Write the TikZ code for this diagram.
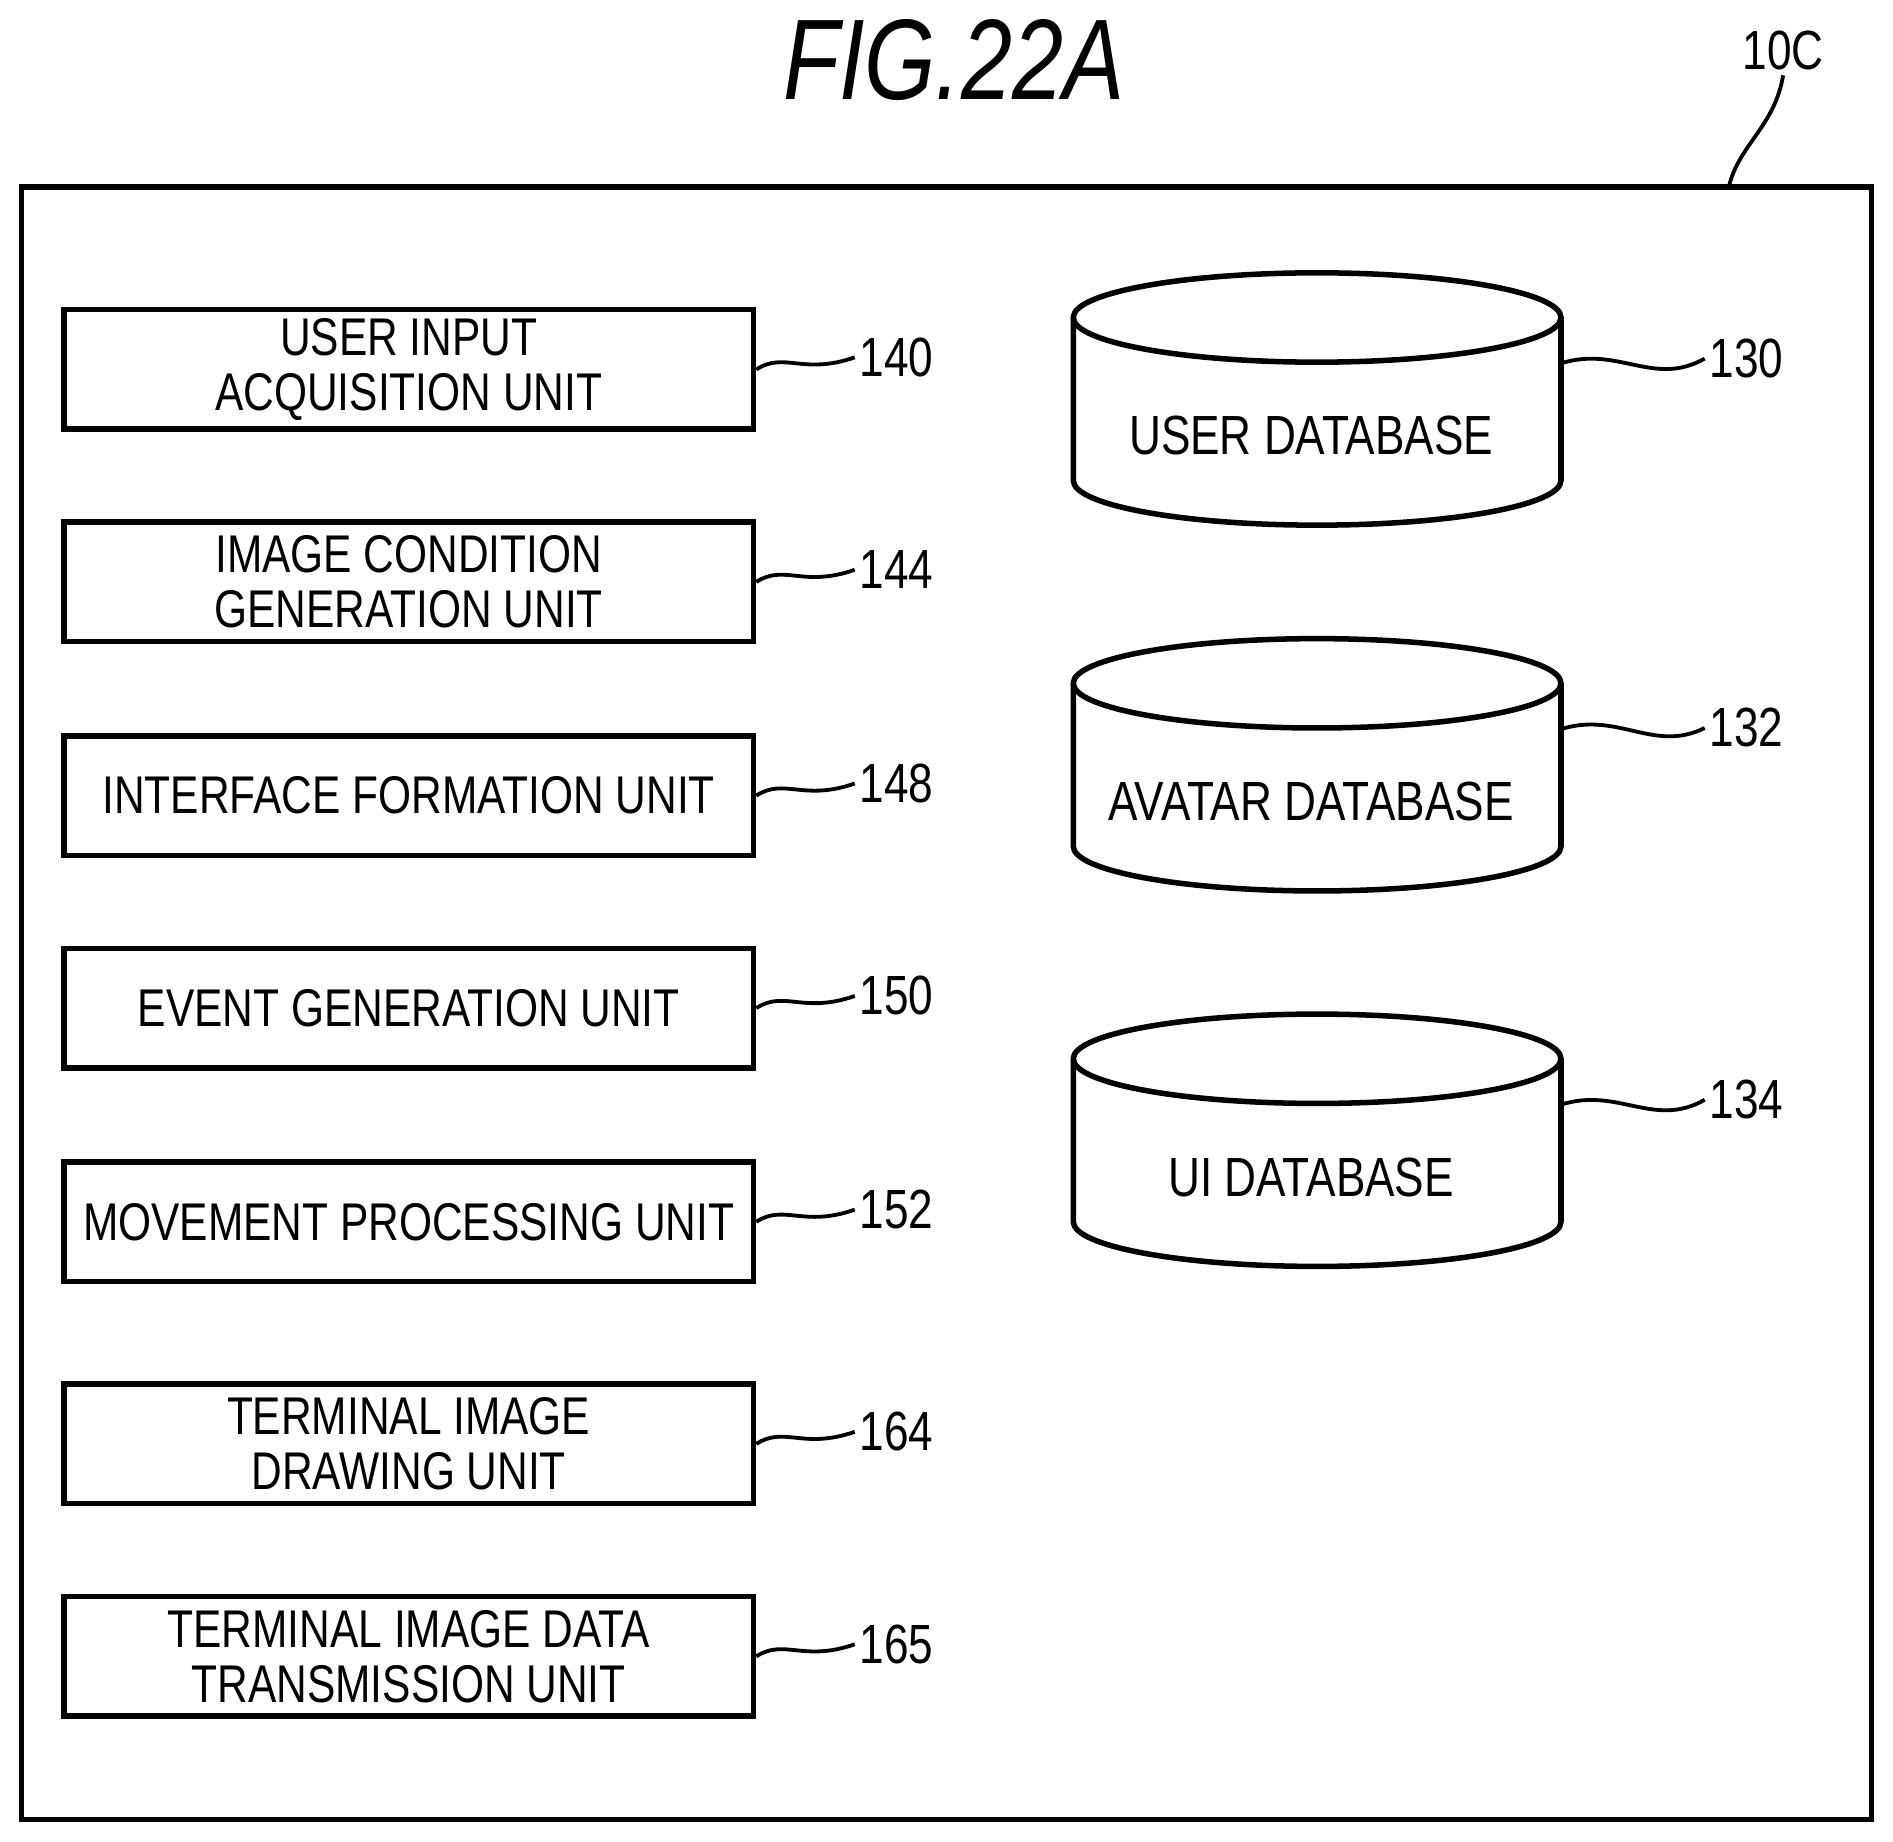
\documentclass[tikz,border=0pt]{standalone}
\usepackage{fontspec}
\setmainfont{Liberation Sans}[FakeStretch=0.8]
\begin{document}
\begin{tikzpicture}[x=0.01cm,y=-0.01cm,
 box/.style={draw,line width=1.3pt,minimum width=5.71cm,minimum height=0.99cm,align=center,font=\fontsize{12.5}{13}\selectfont,inner sep=0pt},
 lbl/.style={font=\fontsize{13}{14}\selectfont,anchor=west,inner sep=1pt},
 lead/.style={line width=0.9pt}]
\useasboundingbox (0,0) rectangle (1568,1525);
\draw[line width=1.3pt] (18,155) rectangle (1550,1507);
\node[font=\fontsize{27}{30}\selectfont\itshape] (title) at (790,50) {FIG.22A};
\node[lbl,anchor=center] (l10c) at (1477,42) {10C};
\coordinate (c10) at (1432,155);
\draw[lead] (c10) .. controls (1440,120) and (1470,105) .. (l10c.south);
\foreach \y/\t/\n in {306/{USER INPUT\\ACQUISITION UNIT}/140,482/{IMAGE CONDITION\\GENERATION UNIT}/144,659/{INTERFACE FORMATION UNIT}/148,835/{EVENT GENERATION UNIT}/150,1012/{MOVEMENT PROCESSING UNIT}/152,1196/{TERMINAL IMAGE\\DRAWING UNIT}/164,1372/{TERMINAL IMAGE DATA\\TRANSMISSION UNIT}/165}{
 \node[box] (b\n) at (338.5,\y) {\t};
 \node[lbl] (n\n) at (708,\y-10) {\n};
 \draw[lead] (b\n.east) .. controls (650,\y-15) and (665,\y+5) .. (n\n.west);
}
\foreach \top/\t/\n/\ly in {226/{USER DATABASE}/130/297,529/{AVATAR DATABASE}/132/603,840/{UI DATABASE}/134/911}{
 \draw[line width=1.3pt] (889,\top+37) arc[start angle=180,end angle=360,x radius=202,y radius=37]
   -- (1293,\top+172) arc[start angle=0,end angle=180,x radius=202,y radius=37] -- cycle;
 \draw[line width=1.3pt] (889,\top+37) arc[start angle=180,end angle=0,x radius=202,y radius=37];
 \node[font=\fontsize{13}{14}\selectfont] (d\n) at (1086,\top+135) {\t};
 \coordinate (e\n) at (1293,\top+75);
 \node[lbl] (n\n) at (1412,\ly) {\n};
 \draw[lead] (e\n) .. controls (1340,\top+60) and (1370,\top+95) .. (n\n.west);
}
\end{tikzpicture}
\end{document}
